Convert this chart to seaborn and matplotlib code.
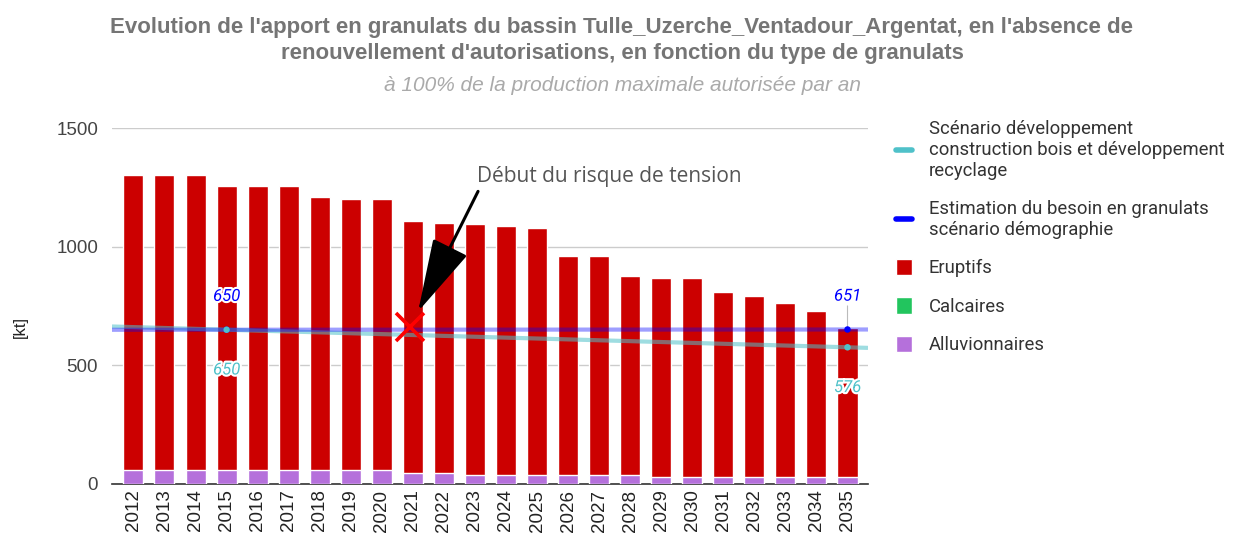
import numpy as np
import pandas as pd
import matplotlib
matplotlib.use("Agg")
import matplotlib.pyplot as plt
import matplotlib.patheffects as pe
from matplotlib.lines import Line2D
from matplotlib.patches import Patch
import seaborn as sns

# --- data -----------------------------------------------------------------
years = [str(y) for y in range(2012, 2036)]
alluvionnaires = [60] * 9 + [48] * 2 + [40] * 6 + [28] * 7
eruptifs = [1240, 1240, 1240, 1196, 1196, 1196, 1149, 1142, 1142, 1062, 1053,
            1056, 1048, 1038, 919, 919, 837, 840, 840, 783, 765, 735, 702, 630]
calcaires = [0] * 24

besoin_years = ["2015", "2035"]
besoin_values = [650, 651]
bois_years = ["2015", "2035"]
bois_values = [650, 576]

tension_year = "2021"
tension_level = 663

y_ticks = [0, 500, 1000, 1500]

# --- colours ----------------------------------------------------------------
C_ERU = "#cc0000"
C_CAL = "#22c55e"
C_ALL = "#b570db"
C_BES = "#0000ff"
C_BOIS = "#4fc1c9"

sns.set_theme(style="white")
plt.rcParams["font.family"] = ["Liberation Sans", "DejaVu Sans"]

fig = plt.figure(figsize=(12.36, 5.37), dpi=100)
ax = fig.add_axes([112 / 1236, 1 - 484 / 537, (868 - 112) / 1236, (484 - 128) / 537])

df = pd.DataFrame({"annee": years, "eruptifs": eruptifs,
                   "alluvionnaires": alluvionnaires, "calcaires": calcaires})
df["total"] = df["eruptifs"] + df["alluvionnaires"] + df["calcaires"]

# stacked bars: full stack in red, lower alluvial segment in purple on top
sns.barplot(data=df, x="annee", y="total", color=C_ERU, saturation=1,
            width=0.645, ax=ax, zorder=2)
sns.barplot(data=df, x="annee", y="alluvionnaires", color=C_ALL, saturation=1,
            width=0.645, ax=ax, zorder=3)

xlim = (-0.69, 23.66)
ax.set_xlim(*xlim)
ax.set_ylim(0, 1500)

pos = {y: i for i, y in enumerate(years)}

# linear trend lines of both demand series, spanning the whole axis
xx = np.array(xlim)
for yrs, vals, col, lw, alpha in [
        (bois_years, bois_values, C_BOIS, 3.0, 0.55),
        (besoin_years, besoin_values, C_BES, 3.0, 0.38)]:
    xs = np.array([pos[y] for y in yrs])
    k, b = np.polyfit(xs, vals, 1)
    ax.plot(xx, k * xx + b, color=col, lw=lw, alpha=alpha, zorder=4,
            solid_capstyle="butt")

# data points and their value labels
halo = [pe.withStroke(linewidth=3, foreground="white")]
pts = pd.DataFrame({
    "x": [pos[y] for y in besoin_years] + [pos[y] for y in bois_years],
    "v": besoin_values + bois_values,
    "s": ["besoin"] * 2 + ["bois"] * 2,
})
sns.scatterplot(data=pts, x="x", y="v", hue="s",
                palette={"besoin": C_BES, "bois": C_BOIS}, s=22,
                edgecolor="none", legend=False, ax=ax, zorder=6)
for yr, v in zip(besoin_years, besoin_values):
    ax.annotate(str(v), (pos[yr], v), xytext=(0, 24), textcoords="offset points",
                ha="center", va="center", fontsize=12, style="italic",
                color=C_BES, path_effects=halo, zorder=7,
                family=["Roboto", "DejaVu Sans"])
for yr, v in zip(bois_years, bois_values):
    ax.annotate(str(v), (pos[yr], v), xytext=(0, -29), textcoords="offset points",
                ha="center", va="center", fontsize=12, style="italic",
                color=C_BOIS, path_effects=halo, zorder=7,
                family=["Roboto", "DejaVu Sans"])
# leader line for the last demand value
ax.annotate("", (pos[besoin_years[-1]], besoin_values[-1]), xytext=(0, 17),
            textcoords="offset points",
            arrowprops=dict(arrowstyle="-", color="#bbbbbb", lw=0.8,
                            shrinkA=0, shrinkB=0), zorder=5)

# tension marker and annotation
ax.plot([pos[tension_year] - 0.1], [tension_level], marker="x", color="#ff0000",
        markersize=20, mew=2.6, zorder=8)
ax.text(11.06, 1295, "Début du risque de tension", fontsize=15,
        color="#555555", family=["Open Sans", "DejaVu Sans"],
        ha="left", va="center", zorder=9)
ax.annotate("", xy=(9.17, 727), xytext=(11.1, 1233), zorder=9,
            arrowprops=dict(arrowstyle="-|>,head_length=2.1,head_width=0.55",
                            mutation_scale=22, color="black", lw=2.2,
                            shrinkA=0, shrinkB=0))

# axes styling
ax.set_yticks(y_ticks)
ax.set_yticklabels([str(t) for t in y_ticks])
ax.yaxis.grid(True, color="#cccccc", lw=1, zorder=0)
ax.xaxis.grid(False)
ax.set_axisbelow(True)
for s in ["top", "right", "left"]:
    ax.spines[s].set_visible(False)
ax.spines["bottom"].set_color("#333333")
ax.spines["bottom"].set_linewidth(1.2)
ax.tick_params(axis="y", length=0, pad=10, labelsize=13.5, labelcolor="#444444")
ax.tick_params(axis="x", length=0, pad=4, labelsize=13.5, labelcolor="#222222",
               labelrotation=90)
ax.set_xlabel("")
ax.set_ylabel("[kt]", fontsize=12, color="#222222")
ax.yaxis.set_label_coords(-84 / 756, 0.44)

# titles
fig.text(622 / 1236, 1 - 28 / 537,
         "Evolution de l'apport en granulats du bassin Tulle_Uzerche_Ventadour_Argentat, en l'absence de",
         ha="center", va="center", fontsize=16, fontweight="bold", color="#757575")
fig.text(622 / 1236, 1 - 53 / 537,
         "renouvellement d'autorisations, en fonction du type de granulats",
         ha="center", va="center", fontsize=16, fontweight="bold", color="#757575")
fig.text(622 / 1236, 1 - 86 / 537,
         "à 100% de la production maximale autorisée par an",
         ha="center", va="center", fontsize=15, style="italic", color="#aaaaaa")

# legend
handles = [
    Line2D([], [], color=C_BOIS, lw=4),
    Line2D([], [], color=C_BES, lw=4),
    Patch(facecolor=C_ERU),
    Patch(facecolor=C_CAL),
    Patch(facecolor=C_ALL),
]
labels = [
    "Scénario développement\nconstruction bois et développement\nrecyclage",
    "Estimation du besoin en granulats\nscénario démographie",
    "Eruptifs",
    "Calcaires",
    "Alluvionnaires",
]
leg = fig.legend(handles, labels, loc="upper left",
                 bbox_to_anchor=(889 / 1236, 1 - 113 / 537),
                 frameon=False, handlelength=0.85, handleheight=1.0,
                 handletextpad=0.9, labelspacing=1.08, borderaxespad=0,
                 prop={"family": ["Roboto", "DejaVu Sans"], "size": 13.3})
for t in leg.get_texts():
    t.set_color("#333333")

fig.savefig("out.png", dpi=100)
